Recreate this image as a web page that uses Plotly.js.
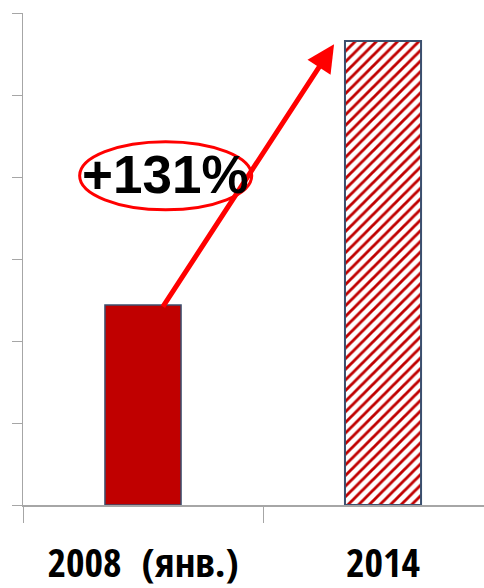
<!DOCTYPE html>
<html>
<head>
<meta charset="utf-8">
<script src="https://cdn.plot.ly/plotly-3.0.1.min.js"></script>
<style>html,body{margin:0;padding:0;background:#fff;}#chart{width:484px;height:588px;}</style>
</head>
<body>
<div id="chart"></div>
<script>
var categories = ["2008\u00a0 (янв.)", "2014"];
var values = [2.44, 5.66];
var growthLabel = "+131%";
var yTicks = [0, 1, 2, 3, 4, 5, 6];

var traces = [
  {
    type: "bar",
    x: [categories[0]],
    y: [values[0]],
    width: 0.317,
    marker: {color: "#C00000", line: {color: "#3B4F6E", width: 1.5}},
    hoverinfo: "none"
  },
  {
    type: "bar",
    x: [categories[1]],
    y: [values[1]],
    width: 0.317,
    marker: {
      color: "#C00000",
      line: {color: "#3B4F6E", width: 2},
      pattern: {shape: "/", fgcolor: "#C00000", bgcolor: "#FFFFFF", size: 7.5, solidity: 0.38, fillmode: "replace"}
    },
    hoverinfo: "none"
  }
];

var layout = {
  width: 484,
  height: 588,
  margin: {l: 23, r: 0, t: 13, b: 83},
  paper_bgcolor: "#FFFFFF",
  plot_bgcolor: "#FFFFFF",
  showlegend: false,
  barmode: "overlay",
  xaxis: {
    type: "category",
    categoryorder: "array",
    categoryarray: categories,
    range: [-0.5, 1.4208],
    tickson: "boundaries",
    ticks: "outside",
    ticklen: 16,
    tickcolor: "#A6A6A6",
    tickwidth: 1,
    tickangle: 0,
    ticklabelstandoff: 22,
    showline: true,
    linecolor: "#A6A6A6",
    linewidth: 1.5,
    showgrid: false,
    zeroline: false,
    tickfont: {family: "Open Sans Condensed, Roboto Condensed, sans-serif", size: 40, color: "#000000", weight: "bold"}
  },
  yaxis: {
    range: [0, 6],
    tickvals: yTicks,
    ticks: "outside",
    ticklen: 10,
    tickcolor: "#A6A6A6",
    tickwidth: 1,
    showline: true,
    linecolor: "#A6A6A6",
    linewidth: 1.5,
    showgrid: false,
    zeroline: false,
    showticklabels: false
  },
  shapes: [{
    type: "circle",
    xref: "x", yref: "y",
    x0: -0.264, x1: 0.453,
    y0: 3.6, y1: 4.43,
    line: {color: "#FF0000", width: 3}
  }],
  annotations: [
    {
      x: 0.796, y: 5.62, xref: "x", yref: "y",
      ax: 0.079, ay: 2.40, axref: "x", ayref: "y",
      showarrow: true, arrowhead: 2, arrowsize: 1.1, arrowwidth: 5,
      arrowcolor: "#FF0000", text: ""
    },
    {
      x: 0.095, y: 4.03, xref: "x", yref: "y",
      text: "<b>" + growthLabel + "</b>", showarrow: false,
      font: {family: "Liberation Sans, Arial, sans-serif", size: 53, color: "#000000"},
      xanchor: "center", yanchor: "middle"
    }
  ]
};

Plotly.newPlot("chart", traces, layout, {displayModeBar: false, staticPlot: true});
</script>
</body>
</html>
